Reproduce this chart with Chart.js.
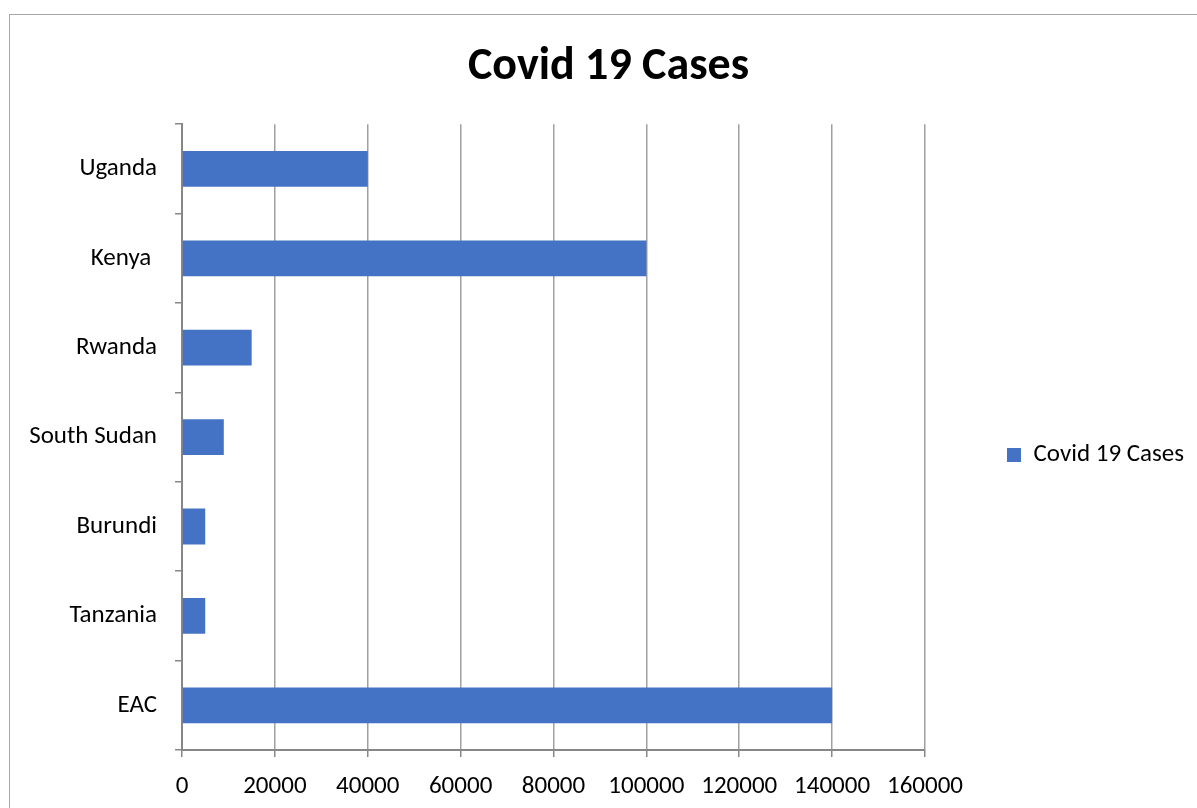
<!DOCTYPE html>
<html>
<head>
<meta charset="utf-8">
<script src="https://cdn.jsdelivr.net/npm/chart.js@4"></script>
<style>
  html, body { margin: 0; padding: 0; background: #fff; overflow: hidden; }
  #frame {
    position: absolute; left: 9px; top: 14px;
    width: 1197px; height: 880px;
    border: 1px solid #a6a6a6; background: #fff;
  }
  #cases-chart { display: block; }
</style>
</head>
<body>
<div id="frame">
  <canvas id="cases-chart" width="1197" height="880"></canvas>
</div>
<script>
var countries = ['Uganda', 'Kenya ', 'Rwanda', 'South Sudan', 'Burundi', 'Tanzania', 'EAC'];
var cases = [40000, 100000, 15000, 9000, 5000, 5000, 140000];
var caseTicks = [0, 20000, 40000, 60000, 80000, 100000, 120000, 140000, 160000];

var fontName = 'Carlito, Lato, "Open Sans", sans-serif';

var ctx = document.getElementById('cases-chart').getContext('2d');

var casesChart = new Chart(ctx, {
    type: 'bar',
    data: {
        labels: countries,
        datasets: [{
            label: 'Covid 19 Cases',
            data: cases,
            backgroundColor: '#4472C4',
            borderWidth: 0,
            categoryPercentage: 0.8,
            barPercentage: 0.5
        }]
    },
    options: {
        indexAxis: 'y',
        responsive: false,
        animation: false,
        layout: {
            padding: { left: 13, right: 13, top: 0, bottom: 0 }
        },
        scales: {
            x: {
                type: 'linear',
                min: caseTicks[0],
                max: caseTicks[caseTicks.length - 1],
                afterBuildTicks: (scale) => {
                    scale.ticks = caseTicks.map((v) => ({ value: v }));
                },
                afterFit: (scale) => { scale.height = 145; },
                grid: {
                    color: '#a0a0a0',
                    lineWidth: 1.5,
                    drawTicks: true,
                    tickLength: 7,
                    tickColor: '#878787'
                },
                border: { color: '#878787', width: 2 },
                ticks: {
                    color: '#000',
                    font: { family: fontName, size: 25 },
                    padding: 15,
                    maxRotation: 0,
                    autoSkip: false,
                    callback: (value) => String(value)
                }
            },
            y: {
                afterFit: (scale) => { scale.width = 159; },
                grid: {
                    offset: true,
                    drawOnChartArea: false,
                    drawTicks: true,
                    tickLength: 7,
                    color: '#878787',
                    lineWidth: 1.5
                },
                border: { color: '#878787', width: 2 },
                ticks: {
                    color: '#000',
                    font: { family: fontName, size: 25 },
                    padding: 18,
                    autoSkip: false
                }
            }
        },
        plugins: {
            title: {
                display: true,
                text: 'Covid 19 Cases',
                color: '#000',
                font: { family: fontName, size: 46, weight: 'bold' },
                padding: { top: 25, bottom: 29 }
            },
            legend: {
                position: 'right',
                fullSize: true,
                labels: {
                    boxWidth: 14,
                    boxHeight: 14,
                    padding: 82,
                    color: '#000',
                    font: { family: fontName, size: 25 }
                }
            },
            tooltip: { enabled: false }
        }
    }
});
</script>
</body>
</html>
